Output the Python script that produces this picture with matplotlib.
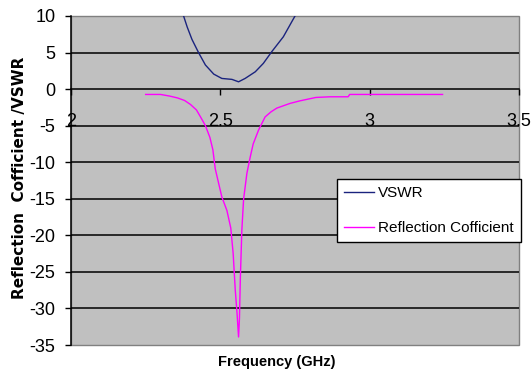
import matplotlib
matplotlib.use("Agg")
import matplotlib.pyplot as plt

# Measured antenna response
vswr_freq = [2.377, 2.389, 2.405, 2.427, 2.45, 2.478, 2.505, 2.539, 2.561,
             2.583, 2.617, 2.644, 2.672, 2.711, 2.75]
vswr_vals = [10.0, 8.5, 6.8, 5.0, 3.3, 2.05, 1.46, 1.33, 1.0,
             1.46, 2.37, 3.52, 5.11, 7.16, 10.0]

refl_freq = [2.25, 2.30, 2.33, 2.356, 2.38, 2.40, 2.42, 2.435, 2.45, 2.465,
             2.475, 2.483, 2.495, 2.505, 2.522, 2.535, 2.543, 2.55, 2.556,
             2.561, 2.564, 2.567, 2.572, 2.578, 2.589, 2.60, 2.61, 2.628,
             2.65, 2.67, 2.689, 2.733, 2.767, 2.82, 2.867, 2.928, 2.933, 3.244]
refl_vals = [-0.73, -0.73, -0.95, -1.2, -1.55, -2.1, -2.85, -3.9, -5.0, -6.6,
             -8.3, -10.9, -13.0, -14.75, -16.6, -19.0, -22.5, -27.5, -30.7,
             -33.9, -31.4, -25.9, -19.3, -15.0, -11.5, -9.3, -7.5, -5.6,
             -3.8, -3.1, -2.6, -1.96, -1.6, -1.14, -1.05, -1.05, -0.73, -0.73]

x_ticks = [2, 2.5, 3, 3.5]
x_tick_labels = ["2", "2.5", "3", "3.5"]
y_ticks = [10, 5, 0, -5, -10, -15, -20, -25, -30, -35]
grid_levels = [5, -5, -10, -15, -20, -25, -30]

W, H = 532, 373
fig = plt.figure(figsize=(W / 100, H / 100), dpi=100)
fig.patch.set_facecolor("white")

left, right, top, bottom = 71, 519, 16, 345
ax = fig.add_axes([left / W, 1 - bottom / H, (right - left) / W, (bottom - top) / H])
ax.set_facecolor("#c0c0c0")
ax.patch.set_edgecolor("#808080")
ax.patch.set_linewidth(1.0)

ax.set_xlim(2, 3.5)
ax.set_ylim(-35, 10)

# horizontal gridlines
for g in grid_levels:
    ax.axhline(g, color="black", lw=1.1, zorder=1)

for s in ["top", "right"]:
    ax.spines[s].set_visible(False)
ax.spines["left"].set_color("black")
ax.spines["left"].set_linewidth(1.1)
ax.spines["bottom"].set_position(("data", 0))
ax.spines["bottom"].set_color("black")
ax.spines["bottom"].set_linewidth(1.1)

tick_font = dict(family=["Liberation Sans", "DejaVu Sans"], size=13)
ax.set_xticks(x_ticks)
ax.set_xticklabels(x_tick_labels, fontdict=tick_font)
ax.set_yticks(y_ticks)
ax.set_yticklabels([str(v) for v in y_ticks], fontdict=tick_font)
ax.tick_params(axis="x", direction="out", length=4.3, width=1, pad=13, color="black")
ax.tick_params(axis="y", direction="out", length=4.3, width=1, pad=7, color="black")

ax.plot(vswr_freq, vswr_vals, color="#1a237e", lw=1.0, label="VSWR", zorder=3)
ax.plot(refl_freq, refl_vals, color="#ff00ff", lw=1.0, label="Reflection Cofficient", zorder=3)

leg = ax.legend(loc="upper left", bbox_to_anchor=((337 - left) / (right - left), (bottom - 179) / (bottom - top)),
                borderaxespad=0, fancybox=False, framealpha=1, edgecolor="black",
                prop=dict(family=["Liberation Sans", "DejaVu Sans"], size=11),
                handlelength=2.0, handletextpad=0.25, labelspacing=1.4, borderpad=0.45)
leg.get_frame().set_linewidth(1.0)
leg.set_zorder(5)

fig.text(20 / W, 1 - 177.5 / H, "Reflection  Cofficient /VSWR", rotation=90,
         ha="center", va="center", family="DejaVu Sans", weight="bold", size=11)
fig.text(276.5 / W, 1 - 362 / H, "Frequency (GHz)", ha="center", va="center",
         family="Liberation Sans", weight="bold", size=10.5)

fig.savefig("out.png", dpi=100)
